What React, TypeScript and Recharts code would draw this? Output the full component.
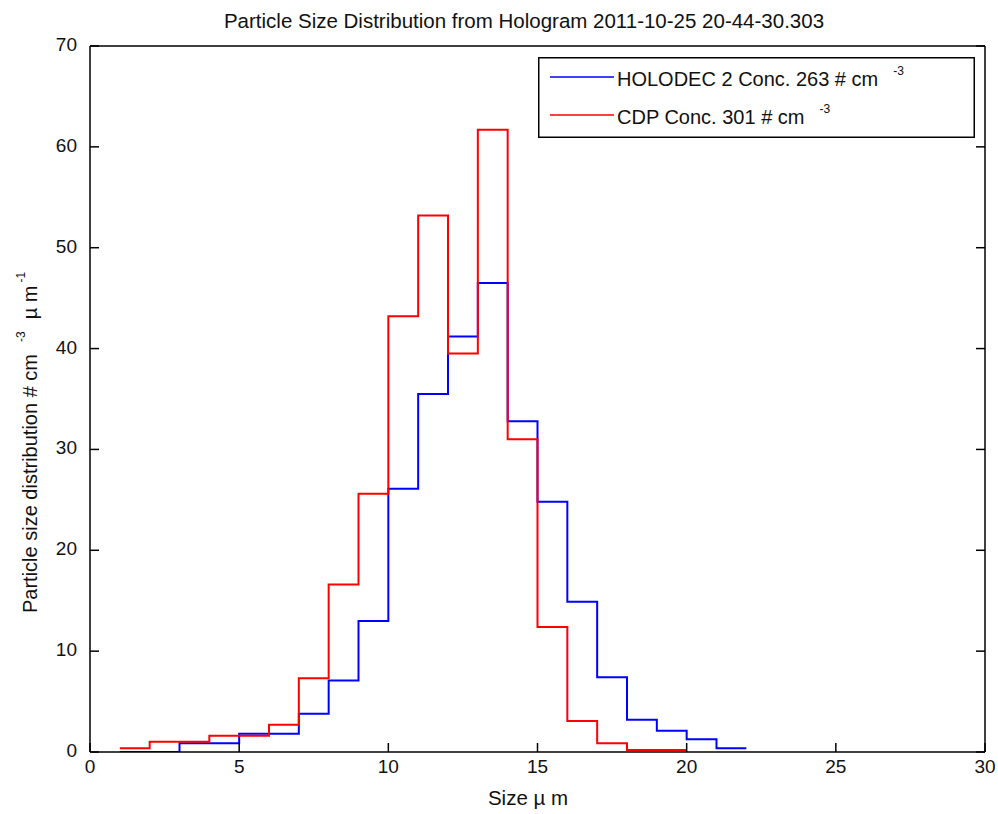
import { LineChart, Line, XAxis, YAxis, Legend } from "recharts";

// bin edges in µm (unit-width bins)
const binEdges = [1, 2, 3, 4, 5, 6, 7, 8, 9, 10, 11, 12, 13, 14, 15, 16, 17, 18, 19, 20, 21, 22];

// HOLODEC 2, one value per bin starting at binEdges[i]
const holodecValues = [
  0, 0, 0.86, 0.86, 1.8, 1.8, 3.8, 7.1, 13.0, 26.1, 35.5, 41.2, 46.5, 32.8, 24.8, 14.9, 7.4, 3.2, 2.1,
  1.26, 0.37,
];

// CDP
const cdpValues = [
  0.37, 1.02, 1.02, 1.6, 1.6, 2.7, 7.3, 16.6, 25.6, 43.2, 53.2, 39.5, 61.7, 31.0, 12.4, 3.07, 0.86, 0.2,
  0.2,
];

const seriesNames = ["HOLODEC 2 Conc. 263 # cm", "CDP Conc. 301 # cm"];
const seriesColors = ["#0000ff", "#ff0000"];
const concUnitExp = "-3";

const xTicks = [0, 5, 10, 15, 20, 25, 30];
const yTicks = [0, 10, 20, 30, 40, 50, 60, 70];

const FONT = "'Liberation Sans', Arial, Helvetica, sans-serif";
const TEXT = "#111";
const TICK_LEN = 9;
const FS = 20;

// stairs: each bin drawn from its left edge, last point closes the final bin
function toStairs(values: number[]) {
  const pts = values.map((v, i) => ({ size: binEdges[i], value: v }));
  pts.push({ size: binEdges[values.length], value: values[values.length - 1] });
  return pts;
}

const holodecData = toStairs(holodecValues);
const cdpData = toStairs(cdpValues);

const BottomTick = ({ x, y, payload }: any) => (
  <g>
    <line x1={x} y1={y} x2={x} y2={y - TICK_LEN} stroke="#000" strokeWidth={1.5} />
    <text x={x} y={y + 21} textAnchor="middle" fontSize={19} fontFamily={FONT} fill={TEXT}>
      {payload.value}
    </text>
  </g>
);

const TopTick = ({ x, y }: any) => (
  <line x1={x} y1={y} x2={x} y2={y + TICK_LEN} stroke="#000" strokeWidth={1.5} />
);

const LeftTick = ({ x, y, payload }: any) => (
  <g>
    <line x1={x} y1={y} x2={x + TICK_LEN} y2={y} stroke="#000" strokeWidth={1.5} />
    <text x={x - 13} y={y + 5} textAnchor="end" fontSize={19} fontFamily={FONT} fill={TEXT}>
      {payload.value}
    </text>
  </g>
);

const RightTick = ({ x, y }: any) => (
  <line x1={x} y1={y} x2={x - TICK_LEN} y2={y} stroke="#000" strokeWidth={1.5} />
);

const renderLegend = (props: any) => {
  const items = [...(props.payload || [])].sort(
    (a: any, b: any) => seriesNames.indexOf(a.value) - seriesNames.indexOf(b.value)
  );
  return (
    <svg width={437} height={81} style={{ display: "block" }}>
      <rect x={0.75} y={0.75} width={435.5} height={79.5} fill="#fff" stroke="#000" strokeWidth={1.5} />
      {items.map((entry: any, i: number) => (
        <g key={i}>
          <line x1={12} x2={76} y1={20 + i * 38} y2={20 + i * 38} stroke={entry.color} strokeWidth={1.5} />
          <text x={79} y={29 + i * 38} fontSize={FS} fontFamily={FONT} fill={TEXT}>
            {entry.value}
            <tspan dx={15} dy={-11} fontSize={12}>
              {concUnitExp}
            </tspan>
          </text>
        </g>
      ))}
    </svg>
  );
};

export default function App() {
  return (
    <div style={{ position: "absolute", left: 0, top: 0, width: 998, height: 814, background: "#fff" }}>
      <LineChart width={998} height={814} margin={{ top: 45, right: 12, left: 0, bottom: 0 }}>
        <XAxis
          dataKey="size"
          type="number"
          domain={[0, 30]}
          ticks={xTicks}
          allowDataOverflow
          height={62}
          tickSize={0}
          tickMargin={0}
          tickLine={false}
          axisLine={{ stroke: "#000", strokeWidth: 1.5 }}
          tick={BottomTick}
        />
        <XAxis
          xAxisId="top"
          orientation="top"
          type="number"
          domain={[0, 30]}
          ticks={xTicks}
          allowDataOverflow
          height={1}
          tickSize={0}
          tickMargin={0}
          tickLine={false}
          axisLine={{ stroke: "#000", strokeWidth: 1.5 }}
          tick={TopTick}
        />
        <YAxis
          type="number"
          domain={[0, 70]}
          ticks={yTicks}
          allowDataOverflow
          width={90}
          tickSize={0}
          tickMargin={0}
          tickLine={false}
          axisLine={{ stroke: "#000", strokeWidth: 1.5 }}
          tick={LeftTick}
        />
        <YAxis
          yAxisId="right"
          orientation="right"
          type="number"
          domain={[0, 70]}
          ticks={yTicks}
          allowDataOverflow
          width={1}
          tickSize={0}
          tickMargin={0}
          tickLine={false}
          axisLine={{ stroke: "#000", strokeWidth: 1.5 }}
          tick={RightTick}
        />
        <Legend
          layout="vertical"
          align="center"
          verticalAlign="middle"
          content={renderLegend}
          wrapperStyle={{ position: "absolute", left: 538, top: 57, width: 437, height: 81 }}
        />
        <Line
          data={holodecData}
          dataKey="value"
          name={seriesNames[0]}
          type="stepAfter"
          stroke={seriesColors[0]}
          strokeWidth={2}
          dot={false}
          activeDot={false}
          isAnimationActive={false}
        />
        <Line
          data={cdpData}
          dataKey="value"
          name={seriesNames[1]}
          type="stepAfter"
          stroke={seriesColors[1]}
          strokeWidth={2}
          dot={false}
          activeDot={false}
          isAnimationActive={false}
        />
      </LineChart>
      <svg
        width={998}
        height={814}
        style={{ position: "absolute", left: 0, top: 0, pointerEvents: "none" }}
      >
        <text x={524} y={28} textAnchor="middle" fontSize={20.5} fontFamily={FONT} fill={TEXT}>
          Particle Size Distribution from Hologram 2011-10-25 20-44-30.303
        </text>
        <text x={528} y={805} textAnchor="middle" fontSize={20.5} fontFamily={FONT} fill={TEXT}>
          Size  µ m
        </text>
        <text transform="translate(37,613) rotate(-90)" fontSize={FS} fontFamily={FONT} fill={TEXT}>
          Particle size distribution # cm
          <tspan dx={12} dy={-12} fontSize={12}>
            -3
          </tspan>
          <tspan dx={12} dy={12}>
            µ m
          </tspan>
          <tspan dx={3} dy={-12} fontSize={12}>
            -1
          </tspan>
        </text>
      </svg>
    </div>
  );
}
